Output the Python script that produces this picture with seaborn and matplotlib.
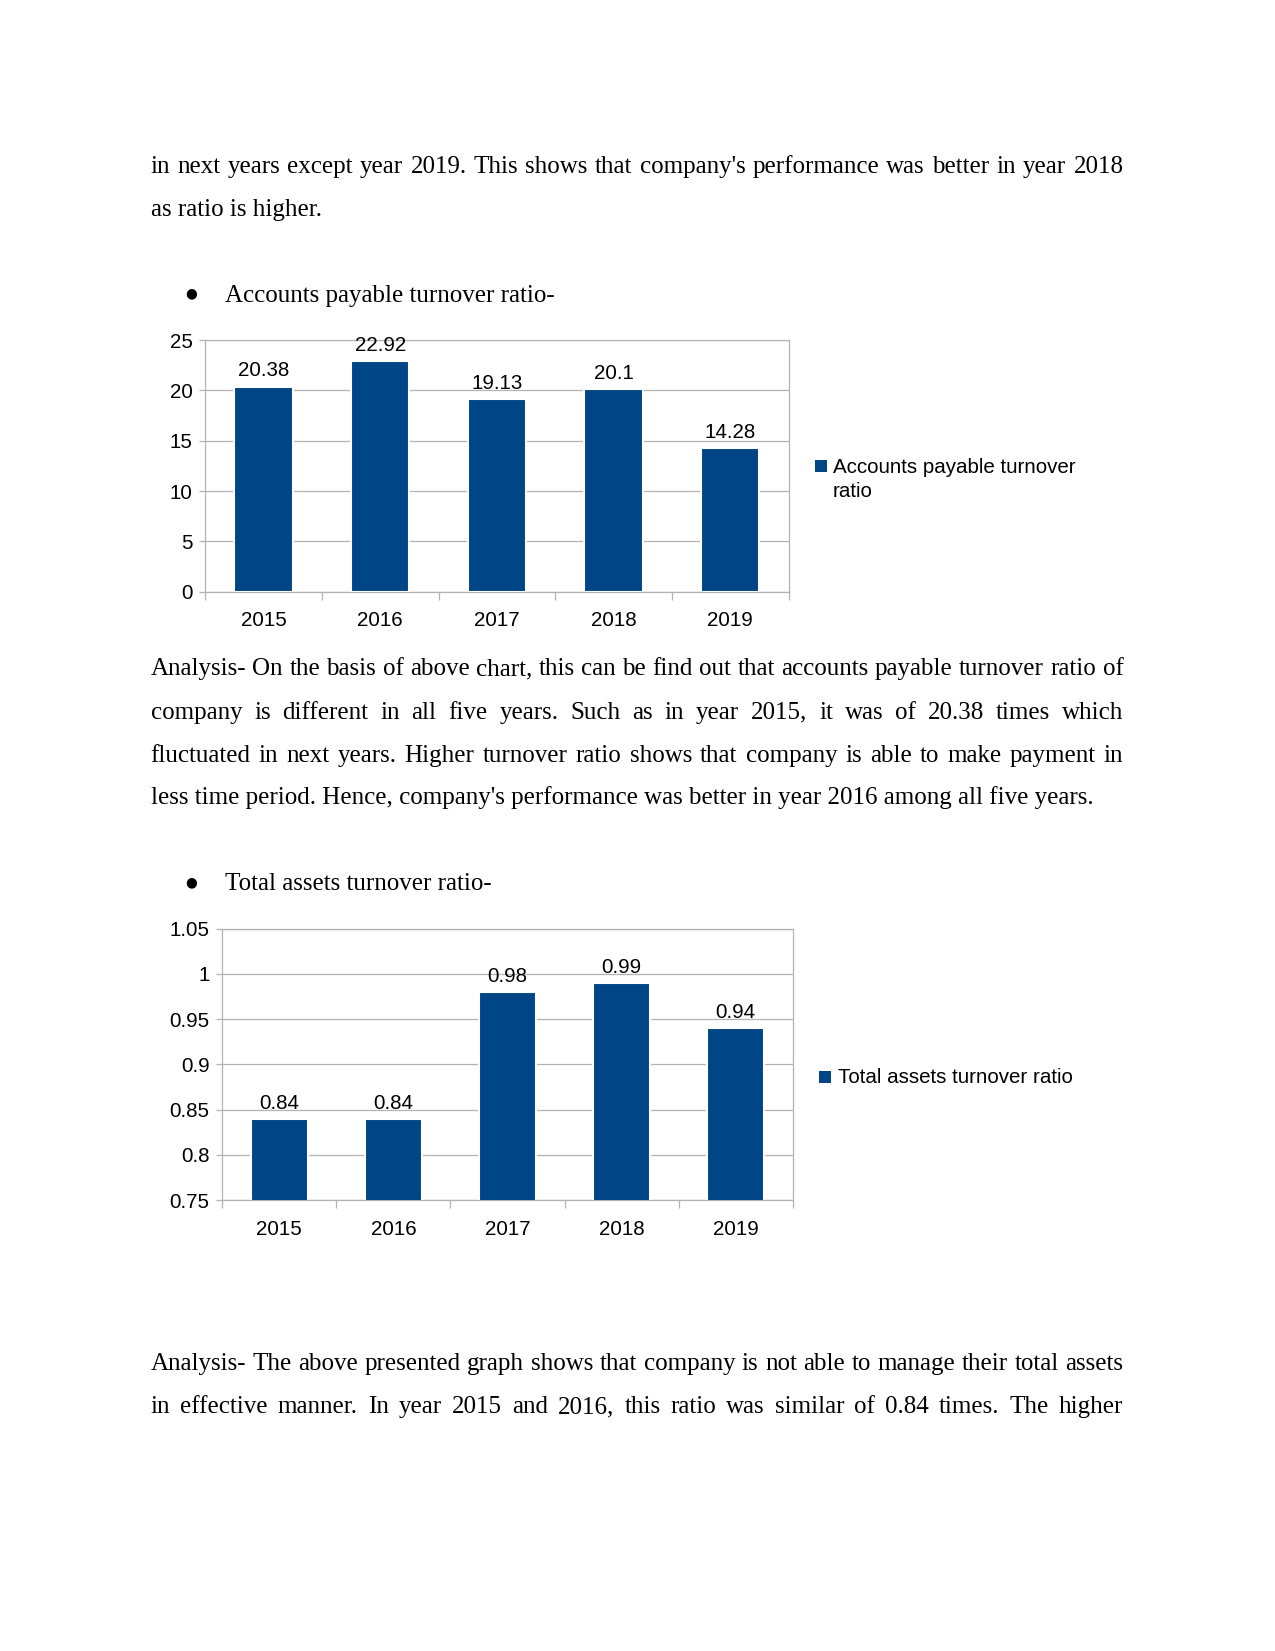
import matplotlib
matplotlib.use('Agg')
import matplotlib.pyplot as plt
import seaborn as sns
import pandas as pd
from matplotlib.patches import Rectangle

# ---------------- data ----------------
years = ['2015', '2016', '2017', '2018', '2019']
ap_turnover = [20.38, 22.92, 19.13, 20.10, 14.28]
ap_labels = ['20.38', '22.92', '19.13', '20.1', '14.28']
ap_yticks = [0, 5, 10, 15, 20, 25]
ap_yticklabels = ['0', '5', '10', '15', '20', '25']

ta_turnover = [0.84, 0.84, 0.98, 0.99, 0.94]
ta_labels = ['0.84', '0.84', '0.98', '0.99', '0.94']
ta_yticks = [0.75, 0.80, 0.85, 0.90, 0.95, 1.00, 1.05]
ta_yticklabels = ['0.75', '0.8', '0.85', '0.9', '0.95', '1', '1.05']

ap_legend = 'Accounts payable turnover\nratio'
ta_legend = 'Total assets turnover ratio'

para0 = [("in next years except year 2019. This shows that company's performance was better in year 2018", True),
         ("as ratio is higher.", False)]
bullet1 = "Accounts payable turnover ratio-"
para1 = [("Analysis- On the basis of above chart, this can be find out that accounts payable turnover ratio of", True),
         ("company is different in all five years. Such as in year 2015, it was of 20.38 times which", True),
         ("fluctuated in next years. Higher turnover ratio shows that company is able to make payment in", True),
         ("less time period. Hence, company's performance was better in year 2016 among all five years.", False)]
bullet2 = "Total assets turnover ratio-"
para2 = [("Analysis- The above presented graph shows that company is not able to manage their total assets", True),
         ("in effective manner. In year 2015 and 2016, this ratio was similar of 0.84 times. The higher", True)]

# ---------------- style ----------------
BLUE = '#004586'
GRID = '#b3b3b3'
W, H = 1275, 1651
S = W / 1211.0
SANS = ['Liberation Sans', 'DejaVu Sans']
SERIF = ['Liberation Serif', 'DejaVu Serif']
CFS = 9.85  # chart font size

sns.set_theme(style='white')
plt.rcParams['font.family'] = SANS

fig = plt.figure(figsize=(W / 150, H / 150), dpi=150)
fig.patch.set_facecolor('white')


def fx(x):
    return x / W


def fy(y):
    return 1 - y / H


renderer = fig.canvas.get_renderer()
BODY_FS = 12


def put_line(text, y_ref, justify, x0=143 * S, x1=1067 * S):
    yb = fy((y_ref + 7.5) * S)
    if not justify:
        fig.text(fx(x0), yb, text, fontsize=BODY_FS, family=SERIF, color='black', va='baseline', ha='left')
        return
    words = text.split(' ')
    objs = [fig.text(0, yb, w, fontsize=BODY_FS, family=SERIF, color='black', va='baseline', ha='left') for w in words]
    widths = [o.get_window_extent(renderer).width for o in objs]
    gap = (x1 - x0 - sum(widths)) / (len(words) - 1)
    x = x0
    for o, w in zip(objs, widths):
        o.set_position((fx(x), yb))
        x += w + gap


def put_bullet(text, y_ref):
    yb = fy((y_ref + 7.5) * S)
    fig.text(fx(182 * S), fy(y_ref * S), '\u25CF', fontsize=6.5, family=['DejaVu Sans'], color='black',
             va='center', ha='center')
    fig.text(fx(214 * S), yb, text, fontsize=BODY_FS, family=SERIF, color='black', va='baseline', ha='left')


# body text
for (t, j), y in zip(para0, [157, 198]):
    put_line(t, y, j)
put_bullet(bullet1, 279)
for (t, j), y in zip(para1, [634, 675, 716, 756]):
    put_line(t, y, j)
put_bullet(bullet2, 838)
for (t, j), y in zip(para2, [1294, 1335]):
    put_line(t, y, j)


# ---------------- charts ----------------
def axes_from_ref(l, r, t, b):
    L, R, T, B = l * S, r * S, t * S, b * S
    return fig.add_axes([fx(L), fy(B), (R - L) / W, (B - T) / H])


def chart(ax, values, labels, yticks, yticklabels):
    df = pd.DataFrame({'Year': years, 'Value': values})
    sns.barplot(data=df, x='Year', y='Value', color=BLUE, width=0.5,
                saturation=1, ax=ax, zorder=3)
    ax.set_ylim(yticks[0], yticks[-1])
    ax.set_xlim(-0.5, len(years) - 0.5)
    ax.set_yticks(yticks)
    ax.set_yticklabels(yticklabels)
    ax.yaxis.grid(True, color=GRID, lw=0.6)
    ax.xaxis.grid(False)
    ax.set_axisbelow(True)
    for sp in ax.spines.values():
        sp.set_color(GRID)
        sp.set_linewidth(0.6)
    ax.set_xlabel('')
    ax.set_ylabel('')
    ax.tick_params(axis='y', left=True, length=3, width=0.6, color=GRID, pad=3,
                   labelsize=CFS, labelcolor='black')
    ax.tick_params(axis='x', which='major', bottom=True, length=0, pad=9.5,
                   labelsize=CFS, labelcolor='black')
    ax.set_xticks([i - 0.5 for i in range(len(years) + 1)], minor=True)
    ax.tick_params(axis='x', which='minor', bottom=True, length=4, width=0.6, color=GRID)
    ax.bar_label(ax.containers[0], labels=labels, padding=3, fontsize=CFS, color='black')


ax1 = axes_from_ref(195, 749, 323, 562)
chart(ax1, ap_turnover, ap_labels, ap_yticks, ap_yticklabels)

ax2 = axes_from_ref(211, 753, 882, 1140)
chart(ax2, ta_turnover, ta_labels, ta_yticks, ta_yticklabels)


def legend_square(x_sq, y_c):
    sq = 12
    X, Y = x_sq * S, y_c * S
    fig.patches.append(Rectangle((fx(X - sq / 2), fy(Y + sq / 2)), sq / W, sq / H,
                                 transform=fig.transFigure, facecolor=BLUE, edgecolor='none'))


legend_square(780, 443)
fig.text(fx(791 * S), fy(443 * S) + 8 / H, ap_legend, fontsize=CFS, family=SANS, color='black',
         va='top', ha='left', linespacing=1.3)
legend_square(784, 1023)
fig.text(fx(796 * S), fy(1023.5 * S), ta_legend, fontsize=CFS, family=SANS, color='black',
         va='center', ha='left')

fig.savefig('out.png', dpi=150, facecolor='white')
